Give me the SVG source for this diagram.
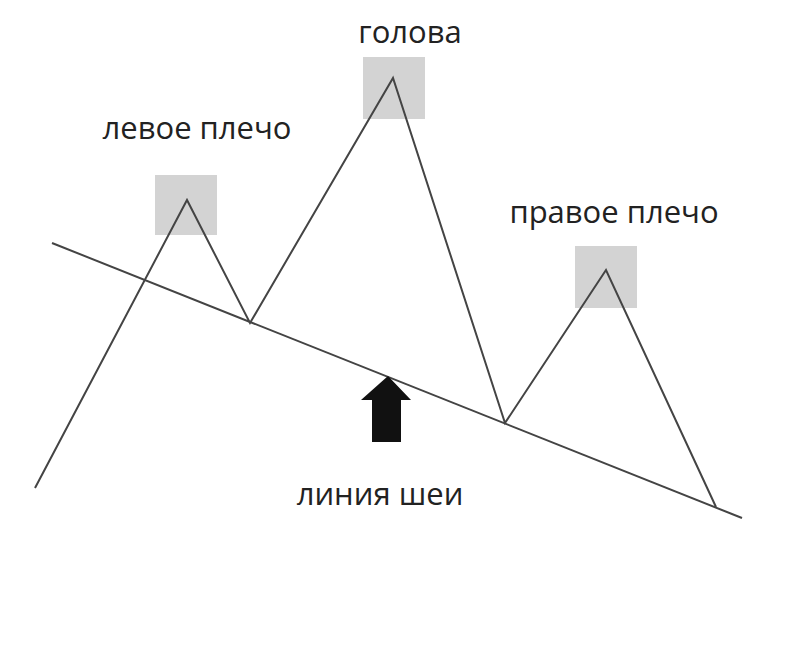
<svg xmlns="http://www.w3.org/2000/svg" width="800" height="667" viewBox="0 0 800 667">
<style>
.lbl{font-family:"Open Sans","Noto Sans",sans-serif;font-size:31px;fill:#222;text-anchor:middle}
.box{fill:#d3d3d3}
.ln{stroke:#444;stroke-width:2;fill:none}
</style>
<rect width="800" height="667" fill="#fff"/>
<g id="left-shoulder"><rect class="box" x="155" y="175" width="62" height="60"/><text class="lbl" x="197" y="139">левое плечо</text></g>
<g id="head"><rect class="box" x="363" y="57" width="62" height="62"/><text class="lbl" x="410" y="43">голова</text></g>
<g id="right-shoulder"><rect class="box" x="575" y="246" width="62" height="62"/><text class="lbl" x="614" y="223">правое плечо</text></g>
<g id="connectors">
<line class="ln" x1="52" y1="243" x2="742" y2="518"/>
<polyline class="ln" points="35,488 187,200 250,323 393,78 505,423 606,270 716,507"/>
</g>
<g id="neckline-label">
<polygon points="388,376 411,400 401,400 401,442 372,442 372,400 361,400" fill="#111"/>
<text class="lbl" x="380" y="505">линия шеи</text>
</g>
</svg>
